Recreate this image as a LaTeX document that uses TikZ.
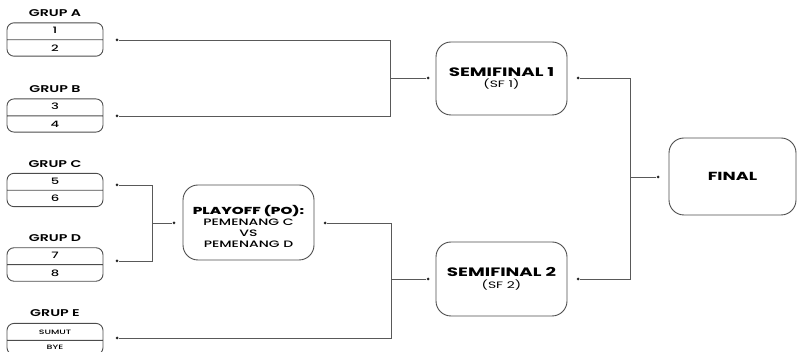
\documentclass[tikz,border=0pt]{standalone}
\usepackage{fontspec}
\setmainfont{Poppins}[FakeStretch=1.5]
\newfontfamily\semibfont{Poppins SemiBold}[FakeStretch=1.45]
\newfontfamily\medfont{Poppins Medium}[FakeStretch=1.5]
\usetikzlibrary{shapes.multipart}
\colorlet{linegray}{black!65}
\colorlet{boxgray}{black!70}
\tikzset{
  grpbox/.style = {
    draw=boxgray, line width=0.9pt, rounded corners=7pt,
    rectangle split, rectangle split parts=2,
    minimum width=96pt, inner xsep=2pt, inner ysep=4.5pt,
    text height=6pt, text depth=1pt, font=\medfont\fontsize{8.8}{9}\selectfont
  },
  grplabel/.style = {font=\semibfont\fontsize{9.8}{10}\selectfont, inner sep=0pt},
  bigbox/.style = {
    draw=boxgray, line width=0.9pt, rounded corners=15pt,
    align=center, inner sep=0pt
  },
  dot/.style = {circle, fill=black!85, inner sep=0pt, minimum size=3pt},
  conn/.style = {draw=linegray, line width=0.8pt}
}
\begin{document}
\begin{tikzpicture}[x=1pt,y=-1pt]
  \useasboundingbox (0,0) rectangle (798,352);
  % groups
  \foreach \g/\y/\a/\b in {A/39.5/1/2, B/115.5/3/4, C/190/5/6, D/264.5/7/8}
  {
    \node[grplabel] (lbl\g) at (55,\y-26) {GRUP \g};
    \node[grpbox] (grp\g) at (55,\y) {\a \nodepart{two} \b};
  }
  \node[grplabel] (lblE) at (55,313) {GRUP E};
  \node[grpbox, font=\medfont\fontsize{6.3}{7}\selectfont] (grpE) at (55,339)
    {SUMUT \nodepart{two} BYE};
  % dots
  \node[dot] (dA) at (117,40) {};
  \node[dot] (dB) at (117,116) {};
  \node[dot] (dC) at (117,185) {};
  \node[dot] (dD) at (117,261) {};
  \node[dot] (dE) at (117,338) {};
  \node[dot] (poin) at (174,223) {};
  \node[dot] (poout) at (325,223) {};
  \node[dot] (sf1in) at (428,78) {};
  \node[dot] (sf2in) at (428,279) {};
  \node[dot] (sf1out) at (578,78) {};
  \node[dot] (sf2out) at (578,279) {};
  \node[dot] (finin) at (658,177) {};
  % junctions
  \coordinate (jAB) at (390,78);
  \coordinate (jCD) at (152,223);
  \coordinate (jPE) at (391,279);
  \coordinate (jSF) at (630,177);
  % boxes
  \node[bigbox, minimum width=131pt, minimum height=75pt,
        font=\medfont\fontsize{9.3}{11}\selectfont] (po) at (248.5,222.5)
    {\rule{0pt}{17pt}{\bfseries\fontsize{10.1}{11}\selectfont PLAYOFF (PO):}\\
     PEMENANG C\\ VS\\ PEMENANG D};
  \node[bigbox, minimum width=131pt, minimum height=73pt,
        font=\fontsize{9.3}{11.5}\selectfont] (sf1) at (501.5,78.5)
    {{\bfseries\fontsize{12.2}{11.5}\selectfont SEMIFINAL 1}\\ (SF 1)};
  \node[bigbox, minimum width=131pt, minimum height=74pt,
        font=\fontsize{9.3}{11.5}\selectfont] (sf2) at (501.5,279)
    {{\bfseries\fontsize{12.2}{11.5}\selectfont SEMIFINAL 2}\\ (SF 2)};
  \node[bigbox, minimum width=127pt, minimum height=77pt,
        font=\bfseries\fontsize{11.7}{13}\selectfont] (fin) at (732.5,176.5)
    {FINAL};
  % connectors
  \draw[conn] (dA) -- (dA -| jAB) -- (dB -| jAB) -- (dB);
  \draw[conn] (jAB) -- (sf1in);
  \draw[conn] (dC) -- (dC -| jCD) -- (dD -| jCD) -- (dD);
  \draw[conn] (jCD) -- (poin);
  \draw[conn] (poout) -- (poout -| jPE) -- (dE -| jPE) -- (dE);
  \draw[conn] (jPE) -- (sf2in);
  \draw[conn] (sf1out) -- (sf1out -| jSF) -- (sf2out -| jSF) -- (sf2out);
  \draw[conn] (jSF) -- (finin);
\end{tikzpicture}
\end{document}
